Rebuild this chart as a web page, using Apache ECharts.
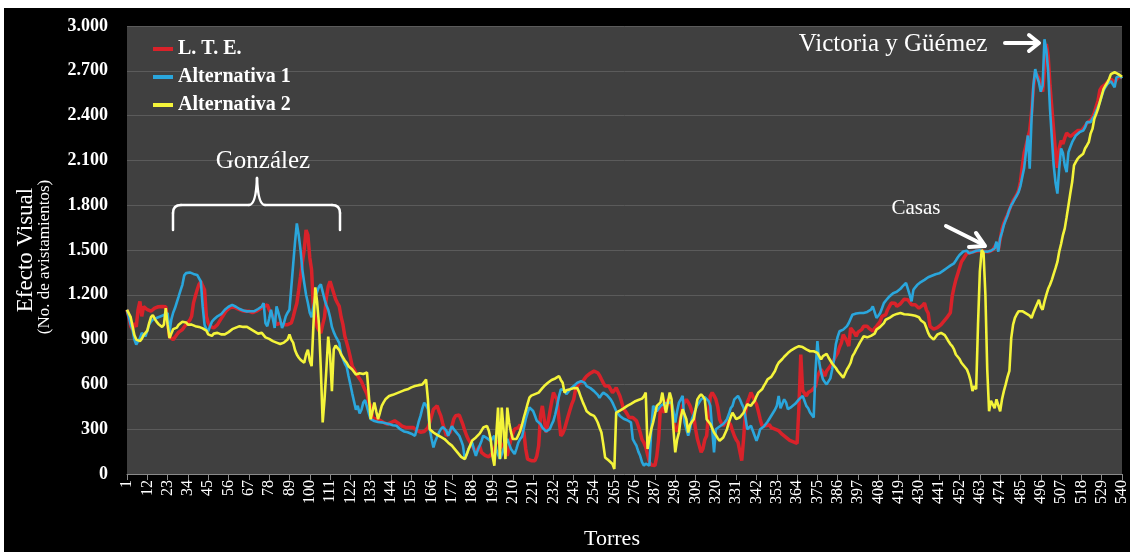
<!DOCTYPE html>
<html>
<head>
<meta charset="utf-8">
<title>Efecto Visual por torre</title>
<script src="https://cdn.jsdelivr.net/npm/echarts@6/dist/echarts.min.js"></script>
<style>
  html, body { margin: 0; padding: 0; background: #ffffff; }
  #chart { width: 1130px; height: 552px; }
</style>
</head>
<body>
<div id="chart"></div>
<script>
// Torres 1..540 along the route
const torres = Array.from({ length: 540 }, (_, i) => String(i + 1));

// L. T. E. (existing line), visual effect per tower
const lte = [
  1100, 1050, 990, 967, 1011, 985, 1100, 1156, 1056, 1122,
  1110, 1100, 1095, 1090, 1100, 1111, 1115, 1120, 1122, 1122,
  1122, 1120, 1111, 919, 911, 900, 910, 934, 950, 963,
  967, 985, 1000, 1011, 1030, 1056, 1144, 1190, 1233, 1270,
  1289, 1260, 1233, 1056, 1011, 990, 978, 978, 980, 1000,
  1020, 1040, 1060, 1080, 1095, 1105, 1115, 1120, 1118, 1110,
  1105, 1100, 1095, 1092, 1090, 1088, 1090, 1085, 1080, 1082,
  1090, 1100, 1105, 1110, 1120, 1130, 1133, 1100, 1080, 1056,
  1030, 1000, 1005, 1010, 1010, 1000, 995, 1000, 1005, 1011,
  1050, 1100, 1144, 1230, 1322, 1420, 1500, 1634, 1600, 1450,
  1366, 1098, 1050, 985, 960, 944, 1000, 1050, 1180, 1255,
  1290, 1300, 1210, 1170, 1145, 1122, 1050, 1000, 922, 880,
  833, 780, 722, 700, 678, 656, 656, 620, 589, 560,
  534, 480, 456, 378, 370, 368, 367, 360, 356, 345,
  340, 334, 340, 345, 350, 356, 356, 340, 330, 320,
  315, 312, 312, 312, 312, 312, 300, 290, 285, 280,
  278, 285, 290, 310, 345, 390, 434, 445, 456, 420,
  389, 340, 300, 256, 265, 278, 320, 367, 390, 400,
  395, 389, 330, 290, 256, 230, 211, 190, 167, 145,
  150, 189, 145, 135, 125, 123, 115, 111, 140, 167,
  211, 220, 220, 190, 167, 140, 123, 180, 234, 270,
  300, 305, 311, 330, 300, 278, 167, 100, 92, 89,
  89, 89, 120, 189, 389, 456, 367, 278, 340, 411,
  480, 545, 520, 500, 367, 256, 270, 300, 345, 389,
  430, 470, 500, 567, 590, 611, 615, 622, 640, 656,
  665, 675, 685, 689, 685, 678, 660, 634, 610, 589,
  589, 589, 589, 545, 560, 578, 550, 522, 480, 434,
  420, 400, 378, 378, 378, 365, 356, 320, 278, 230,
  211, 180, 167, 80, 60, 56, 56, 120, 234, 456,
  430, 412, 460, 500, 480, 456, 380, 300, 285, 278,
  380, 456, 480, 500, 480, 456, 420, 389, 300, 234,
  190, 145, 170, 230, 256, 400, 523, 545, 525, 500,
  450, 367, 340, 323, 340, 360, 367, 330, 290, 256,
  230, 212, 150, 89, 234, 412, 478, 510, 545, 520,
  489, 467, 420, 367, 323, 323, 323, 323, 330, 310,
  300, 300, 295, 290, 280, 265, 256, 245, 235, 225,
  220, 215, 212, 205, 450, 800, 560, 540, 523, 545,
  556, 560, 567, 589, 650, 680, 700, 680, 656, 690,
  700, 723, 740, 767, 790, 811, 850, 878, 934, 911,
  890, 856, 978, 967, 945, 923, 950, 960, 967, 989,
  989, 989, 975, 965, 956, 975, 989, 1005, 1022, 1056,
  1060, 1067, 1100, 1122, 1145, 1140, 1144, 1122, 1122, 1140,
  1156, 1170, 1178, 1167, 1150, 1133, 1130, 1133, 1120, 1110,
  1100, 1130, 1145, 1100, 1078, 989, 978, 970, 967, 980,
  989, 1000, 1011, 1030, 1045, 1056, 1080, 1189, 1250, 1300,
  1340, 1380, 1420, 1440, 1460, 1478, 1480, 1482, 1485, 1489,
  1490, 1495, 1497, 1495, 1490, 1488, 1488, 1489, 1493, 1500,
  1510, 1540, 1500, 1570, 1640, 1680, 1710, 1735, 1770, 1800,
  1830, 1850, 1870, 1900, 1960, 2060, 2150, 2200, 2250, 2300,
  2420, 2580, 2690, 2700, 2650, 2600, 2560, 2700, 2880, 2800,
  2600, 2450, 2300, 2150, 2050, 2180, 2233, 2210, 2250, 2283,
  2270, 2260, 2270, 2280, 2290, 2300, 2295, 2300, 2315, 2330,
  2350, 2360, 2370, 2390, 2420, 2460, 2500, 2570, 2590, 2600,
  2610, 2625, 2635, 2645, 2650, 2620, 2640, 2660, 2665, 2655
];

// Alternativa 1
const alternativa1 = [
  1100, 1050, 1000, 967, 900, 867, 878, 910, 945, 935,
  922, 960, 1000, 1020, 1034, 1040, 1045, 1050, 1055, 1056,
  1065, 1075, 1078, 945, 1034, 1080, 1111, 1150, 1189, 1230,
  1267, 1330, 1345, 1356, 1350, 1345, 1340, 1335, 1333, 1320,
  1289, 1122, 1000, 970, 956, 990, 1020, 1034, 1045, 1056,
  1060, 1070, 1085, 1100, 1110, 1120, 1125, 1133, 1130, 1120,
  1110, 1105, 1100, 1095, 1090, 1089, 1100, 1090, 1078, 1090,
  1100, 1105, 1110, 1122, 1144, 1011, 989, 1040, 1100, 1040,
  978, 1122, 1080, 1034, 978, 1010, 1056, 1080, 1100, 1250,
  1400, 1550, 1678, 1600, 1500, 1367, 1280, 1200, 1145, 1080,
  1050, 1120, 1185, 1220, 1255, 1270, 1280, 1170, 1130, 1100,
  1050, 985, 950, 922, 900, 877, 800, 770, 740, 718,
  656, 600, 540, 545, 430, 456, 405, 430, 478, 495,
  500, 405, 367, 360, 355, 350, 348, 347, 346, 345,
  340, 337, 334, 330, 327, 325, 323, 310, 300, 289,
  285, 282, 280, 278, 270, 262, 256, 300, 350, 389,
  440, 478, 460, 434, 300, 234, 178, 220, 250, 278,
  300, 315, 323, 290, 256, 290, 320, 300, 289, 270,
  256, 225, 190, 100, 130, 167, 190, 211, 160, 122,
  160, 189, 220, 256, 250, 240, 230, 222, 240, 256,
  167, 130, 100, 130, 167, 200, 234, 200, 167, 150,
  134, 170, 211, 235, 250, 256, 367, 410, 445, 435,
  422, 390, 356, 345, 334, 310, 300, 285, 278, 300,
  330, 356, 400, 456, 520, 567, 567, 560, 534, 550,
  567, 578, 589, 600, 611, 618, 622, 634, 610, 589,
  580, 575, 567, 555, 545, 530, 511, 530, 545, 535,
  528, 522, 500, 478, 450, 422, 405, 389, 378, 370,
  367, 360, 350, 345, 234, 210, 189, 150, 122, 80,
  56, 70, 78, 56, 300, 456, 440, 420, 412, 456,
  465, 470, 478, 478, 478, 478, 420, 345, 420, 478,
  500, 523, 345, 300, 256, 300, 367, 400, 434, 460,
  480, 500, 510, 515, 523, 490, 456, 300, 145, 300,
  310, 318, 323, 335, 350, 367, 400, 440, 456, 500,
  510, 523, 500, 470, 445, 380, 300, 310, 323, 290,
  290, 223, 256, 300, 310, 318, 323, 350, 370, 390,
  410, 430, 456, 523, 440, 470, 500, 480, 434, 445,
  450, 456, 470, 485, 500, 510, 523, 490, 456, 440,
  412, 395, 378, 700, 890, 745, 680, 634, 615, 600,
  610, 640, 700, 767, 870, 920, 956, 960, 967, 975,
  990, 1011, 1040, 1067, 1070, 1075, 1078, 1078, 1078, 1078,
  1082, 1085, 1089, 1100, 1122, 1133, 1045, 1060, 1078, 1110,
  1144, 1160, 1175, 1189, 1200, 1211, 1211, 1220, 1233, 1240,
  1255, 1267, 1280, 1289, 1200, 1156, 1233, 1250, 1265, 1278,
  1285, 1290, 1300, 1310, 1318, 1322, 1328, 1333, 1338, 1340,
  1344, 1350, 1360, 1367, 1378, 1389, 1395, 1400, 1411, 1430,
  1450, 1467, 1480, 1490, 1500, 1495, 1478, 1480, 1485, 1489,
  1495, 1500, 1498, 1495, 1490, 1489, 1489, 1489, 1495, 1505,
  1511, 1556, 1489, 1578, 1620, 1667, 1700, 1733, 1770, 1800,
  1820, 1844, 1865, 1889, 1930, 1990, 2050, 2160, 2267, 2044,
  2380, 2600, 2711, 2660, 2622, 2560, 2600, 2911, 2840, 2700,
  2444, 2250, 2067, 1950, 1878, 2050, 2180, 2150, 2067, 2022,
  2155, 2190, 2222, 2245, 2267, 2280, 2289, 2278, 2300, 2322,
  2356, 2356, 2356, 2380, 2400, 2430, 2460, 2489, 2530, 2567,
  2590, 2610, 2622, 2630, 2633, 2589, 2656, 2662, 2667, 2650
];

// Alternativa 2
const alternativa2 = [
  1100, 1090, 1050, 990, 930, 900, 905, 890, 905, 930,
  940, 960, 1010, 1050, 1065, 1040, 1020, 1005, 995, 985,
  1000, 1110, 1000, 910, 940, 970, 965, 980, 1000, 1005,
  1020, 1030, 1015, 1000, 1010, 1000, 995, 990, 1000, 985,
  980, 975, 980, 960, 935, 930, 925, 940, 950, 945,
  940, 935, 930, 935, 945, 950, 960, 970, 975, 980,
  985, 990, 990, 985, 990, 985, 980, 970, 960, 955,
  950, 940, 935, 945, 930, 915, 910, 905, 895, 890,
  885, 880, 875, 870, 875, 880, 870, 900, 935, 900,
  880, 830, 800, 780, 765, 755, 745, 800, 833, 760,
  722, 1000, 1250, 1150, 1000, 700, 345, 500, 700, 920,
  800, 555, 835, 860, 850, 830, 800, 780, 760, 745,
  722, 710, 700, 690, 667, 670, 675, 665, 670, 675,
  680, 680, 367, 420, 478, 420, 367, 410, 456, 480,
  500, 510, 522, 525, 530, 534, 540, 545, 550, 556,
  560, 565, 567, 575, 580, 585, 589, 592, 595, 598,
  600, 615, 633, 500, 300, 290, 278, 270, 262, 256,
  248, 240, 234, 225, 210, 200, 190, 175, 160, 145,
  130, 115, 105, 100, 130, 165, 195, 225, 235, 245,
  255, 270, 290, 311, 320, 322, 290, 234, 120, 56,
  60, 445, 100, 445, 300, 100, 445, 345, 280, 234,
  230, 234, 260, 290, 330, 380, 422, 470, 511, 525,
  534, 535, 540, 545, 545, 575, 589, 600, 611, 620,
  630, 634, 640, 645, 656, 630, 611, 545, 560, 560,
  567, 570, 575, 578, 575, 545, 510, 478, 450, 420,
  411, 400, 392, 389, 370, 345, 310, 278, 200, 111,
  100, 90, 80, 67, 34, 411, 420, 425, 433, 440,
  450, 456, 465, 470, 478, 485, 489, 495, 500, 505,
  520, 545, 167, 160, 300, 345, 400, 456, 467, 480,
  545, 470, 411, 480, 545, 500, 300, 145, 230, 278,
  380, 434, 440, 367, 278, 330, 350, 367, 430, 500,
  520, 534, 520, 500, 367, 350, 335, 323, 278, 260,
  240, 223, 235, 245, 256, 300, 345, 380, 411, 400,
  367, 375, 380, 389, 410, 423, 467, 460, 456, 475,
  490, 520, 545, 555, 567, 590, 610, 634, 645, 650,
  656, 690, 722, 745, 756, 770, 785, 790, 810, 822,
  830, 840, 845, 850, 856, 855, 850, 845, 835, 825,
  822, 820, 822, 818, 811, 811, 767, 790, 800, 805,
  780, 760, 740, 734, 710, 690, 678, 660, 645, 640,
  700, 720, 745, 789, 810, 834, 856, 880, 900, 922,
  920, 915, 911, 925, 934, 940, 967, 978, 985, 989,
  1010, 1033, 1034, 1045, 1056, 1062, 1067, 1072, 1078, 1078,
  1075, 1070, 1067, 1068, 1067, 1065, 1067, 1060, 1056, 1050,
  1030, 1023, 1011, 980, 945, 922, 910, 900, 900, 934,
  940, 945, 945, 930, 910, 889, 870, 856, 834, 800,
  790, 770, 745, 730, 720, 700, 667, 623, 556, 589,
  567, 1000, 1356, 1500, 1480, 1200, 700, 420, 490, 478,
  440, 500, 510, 420, 500, 555, 600, 650, 690, 910,
  1000, 1045, 1070, 1090, 1095, 1090, 1080, 1075, 1070, 1060,
  1045, 1080, 1110, 1122, 1167, 1120, 1100, 1155, 1200, 1240,
  1267, 1300, 1340, 1378, 1420, 1490, 1540, 1600, 1645, 1720,
  1800, 1880, 1955, 2067, 2090, 2111, 2125, 2135, 2145, 2180,
  2200, 2222, 2280, 2311, 2378, 2410, 2445, 2490, 2534, 2578,
  2600, 2620, 2645, 2678, 2685, 2690, 2690, 2678, 2670, 2660
];

const serif = '"Liberation Serif", "Times New Roman", serif';

// thousands with a dot, as in "3.000"
function miles(v) {
  if (v < 1000) return String(v);
  const r = v % 1000;
  return Math.floor(v / 1000) + '.' + String(r).padStart(3, '0');
}

const chart = echarts.init(document.getElementById('chart'), null, { renderer: 'canvas' });

const whiteText = (text, x, y, size, opts = {}) => ({
  type: 'text',
  x: x, y: y,
  rotation: opts.rotation || 0,
  z: 100,
  style: {
    text: text,
    fill: '#ffffff',
    font: (opts.weight || 'normal') + ' ' + size + 'px ' + serif,
    align: 'center',
    verticalAlign: 'middle'
  }
});

const stroke = (w) => ({ stroke: '#ffffff', lineWidth: w, fill: null, lineCap: 'round', lineJoin: 'round' });
const seg = (points, w) => ({ type: 'polyline', z: 100, shape: { points: points }, style: stroke(w) });
const curve = (x1, y1, cx, cy, x2, y2, w) => ({
  type: 'bezierCurve', z: 100,
  shape: { x1: x1, y1: y1, cpx1: cx, cpy1: cy, x2: x2, y2: y2 },
  style: stroke(w)
});

const option = {
  backgroundColor: '#000000',
  animation: false,
  grid: {
    left: 127, right: 4, top: 26, bottom: 78,
    show: true, backgroundColor: '#404040', borderWidth: 0
  },
  legend: {
    orient: 'vertical',
    left: 148, top: 34,
    padding: 5,
    itemGap: 8,
    itemWidth: 20, itemHeight: 4,
    icon: 'rect',
    textStyle: { color: '#ffffff', fontFamily: serif, fontWeight: 'bold', fontSize: 20 },
    data: ['L. T. E.', 'Alternativa 1', 'Alternativa 2']
  },
  xAxis: {
    type: 'category',
    data: torres,
    boundaryGap: false,
    axisLine: { lineStyle: { color: '#8a8a8a', width: 1 } },
    axisTick: { show: true, interval: 10, length: 6, lineStyle: { color: '#8a8a8a' } },
    axisLabel: {
      interval: 10, rotate: 90, color: '#ffffff',
      fontFamily: serif, fontSize: 16, margin: 6
    },
    splitLine: { show: false }
  },
  yAxis: {
    type: 'value',
    min: 0, max: 3000, interval: 300,
    axisLine: { show: false },
    axisTick: { show: false },
    splitLine: { lineStyle: { color: '#5b5b5b', width: 1 } },
    axisLabel: {
      color: '#ffffff', fontFamily: serif, fontWeight: 'bold', fontSize: 18,
      margin: 19, formatter: miles
    }
  },
  series: [
    {
      name: 'L. T. E.', type: 'line', data: lte, symbol: 'none',
      color: '#d9222a', lineStyle: { width: 3.5, color: '#d9222a' }
    },
    {
      name: 'Alternativa 1', type: 'line', data: alternativa1, symbol: 'none',
      color: '#2aa6dc', lineStyle: { width: 2.6, color: '#2aa6dc' }
    },
    {
      name: 'Alternativa 2', type: 'line', data: alternativa2, symbol: 'none',
      color: '#f4f43a', lineStyle: { width: 2.6, color: '#f4f43a' }
    }
  ],
  graphic: [
    // page margin strips
    { type: 'rect', z: 200, shape: { x: 0, y: 0, width: 1130, height: 8 }, style: { fill: '#ffffff' } },
    { type: 'rect', z: 200, shape: { x: 0, y: 0, width: 4, height: 552 }, style: { fill: '#ffffff' } },

    // axis titles
    whiteText('Efecto Visual', 26, 250, 23, { rotation: Math.PI / 2 }),
    whiteText('(No. de avistamientos)', 45, 257, 17, { rotation: Math.PI / 2 }),
    whiteText('Torres', 612, 539, 22),

    // González bracket
    whiteText('González', 263, 161, 25),
    seg([[173, 230], [173, 213]], 2.5),
    curve(173, 213, 173, 205, 181, 205, 2.5),
    seg([[181, 205], [249, 205]], 2.5),
    curve(249, 205, 256, 205, 257, 178, 2.5),
    curve(257, 178, 258, 205, 265, 205, 2.5),
    seg([[265, 205], [332, 205]], 2.5),
    curve(332, 205, 340, 205, 340, 213, 2.5),
    seg([[340, 213], [340, 230]], 2.5),

    // Casas
    whiteText('Casas', 916, 208, 21),
    seg([[946, 226], [982, 244]], 4),
    seg([[976, 233], [985, 246], [969, 247]], 4),

    // Victoria y Güémez
    whiteText('Victoria y Güémez', 893, 44, 25),
    seg([[1005, 43], [1036, 43]], 4),
    seg([[1029, 35], [1039, 43], [1029, 51]], 4)
  ]
};

chart.setOption(option);
</script>
</body>
</html>
